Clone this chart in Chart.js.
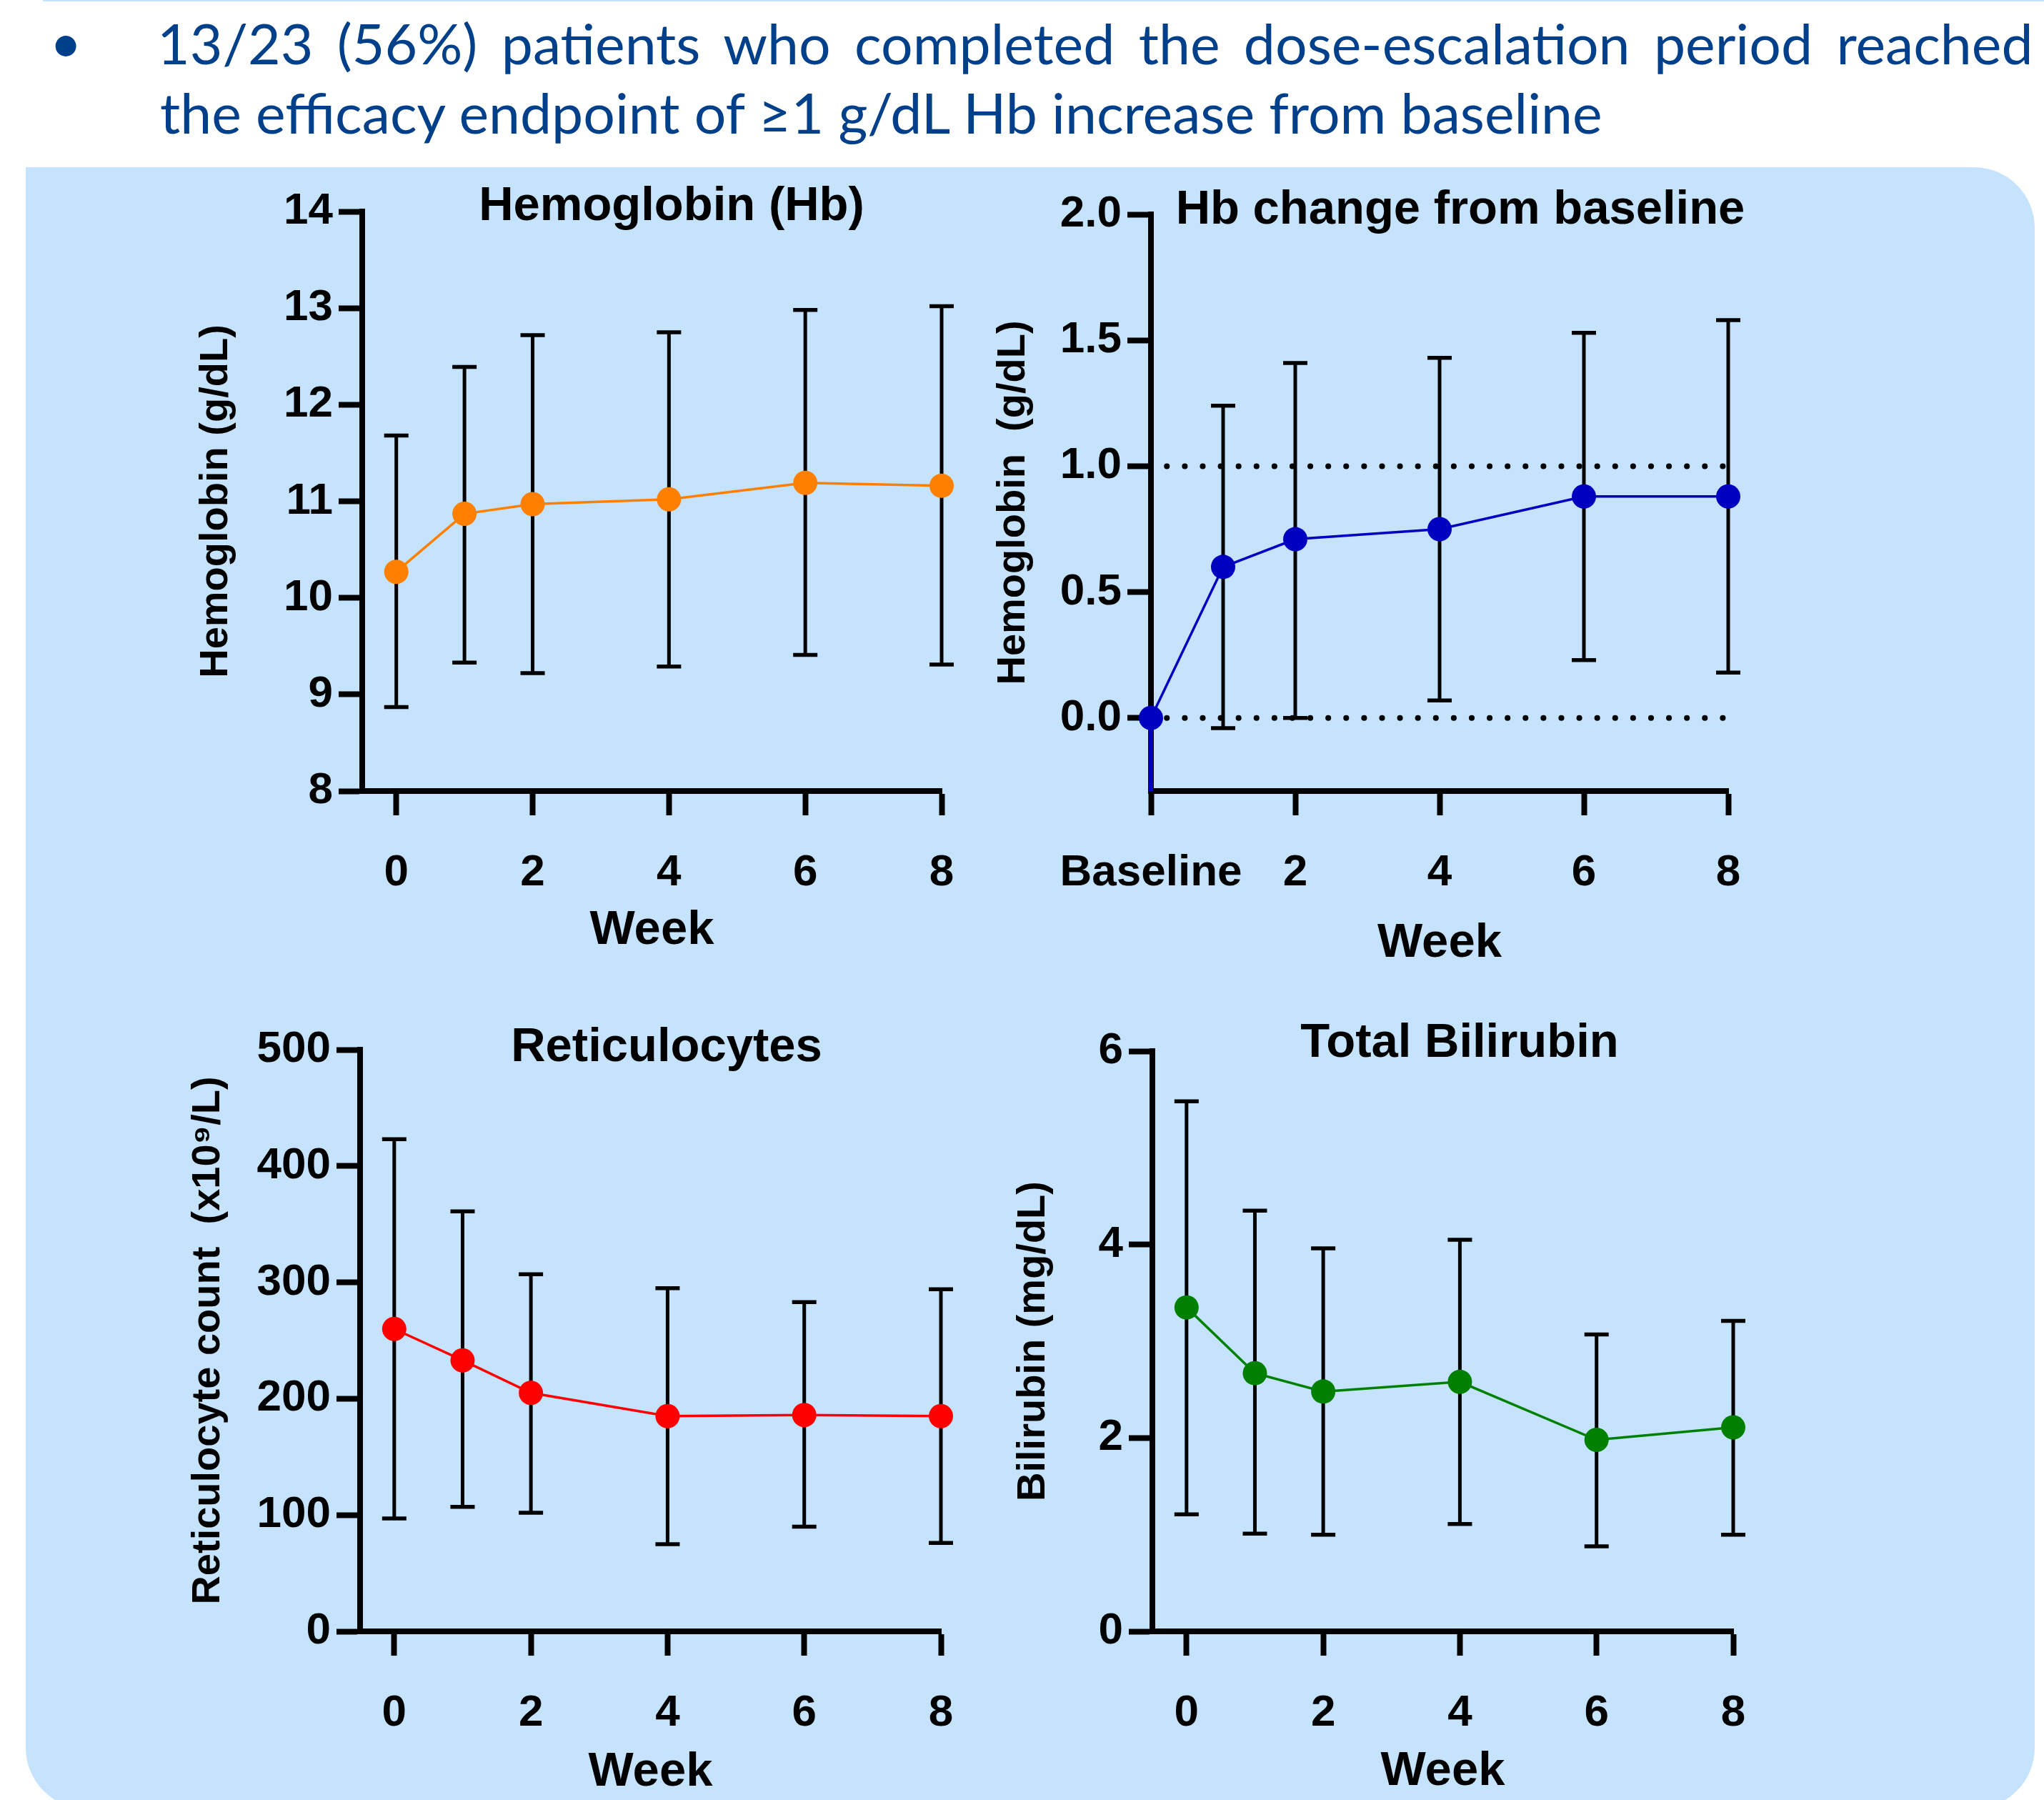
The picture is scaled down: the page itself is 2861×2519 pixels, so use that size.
<!DOCTYPE html>
<html>
<head>
<meta charset="utf-8">
<script src="https://cdn.jsdelivr.net/npm/chart.js@4.4.1/dist/chart.umd.min.js"></script>
<style>
  html, body { margin:0; padding:0; background:#ffffff; }
  body { width:2861px; height:2519px; position:relative; overflow:hidden; }
  #topline { position:absolute; left:60px; top:0; width:2801px; height:2px; background:#c5e3fc; }
  #panel { position:absolute; left:36px; top:234px; width:2812px; height:2297px; background:#c5e3fc;
           border-radius:0 85px 85px 85px; }
  #hdr { position:absolute; left:0; top:0; }
  #hdr text { font-family:Lato, 'Open Sans', sans-serif; font-size:78px; fill:#00408a; }
  canvas { position:absolute; }
</style>
</head>
<body>
<div id="topline"></div>
<div id="panel"></div>
<svg id="hdr" width="2861" height="230" xmlns="http://www.w3.org/2000/svg">
  <text id="bul" x="92" y="88" text-anchor="middle">•</text>
  <text id="t1" x="0" y="90">13/23 (56%) patients who completed the dose-escalation period reached</text>
  <text id="t2" x="0" y="187">the efficacy endpoint of ≥1 g/dL Hb increase from baseline</text>
</svg>
<script>
// ---------------- DATA ----------------
const weeks = [0, 1, 2, 4, 6, 8];
const weekTicks = [0, 2, 4, 6, 8];
const weekLabels = ['0', '2', '4', '6', '8'];
const changeWeekLabels = ['Baseline', '2', '4', '6', '8'];

const hbMean = [10.27, 10.87, 10.97, 11.02, 11.19, 11.16];
const hbHi   = [11.68, 12.39, 12.72, 12.75, 12.98, 13.02];
const hbLo   = [8.87, 9.33, 9.22, 9.29, 9.41, 9.31];
const hbTicks = [8, 9, 10, 11, 12, 13, 14];

const chgMean = [0, 0.60, 0.71, 0.75, 0.88, 0.88];
const chgHi   = [null, 1.24, 1.41, 1.43, 1.53, 1.58];
const chgLo   = [null, -0.04, 0.00, 0.07, 0.23, 0.18];
const chgTicks = [0, 0.5, 1.0, 1.5, 2.0];
const chgYMin = -0.29;
const chgRefLevels = [1.0, 0.0];
const chgRefRange = [0.22, 8];

const retMean = [260, 233, 205, 185, 186, 185];
const retHi   = [423, 361, 307, 295, 283, 294];
const retLo   = [97, 107, 102, 75, 90, 76];
const retTicks = [0, 100, 200, 300, 400, 500];

const biliMean = [3.35, 2.67, 2.48, 2.58, 1.98, 2.11];
const biliHi   = [5.48, 4.35, 3.96, 4.05, 3.07, 3.21];
const biliLo   = [1.21, 1.01, 1.00, 1.11, 0.88, 1.00];
const biliTicks = [0, 2, 4, 6];

// ---------------- HEADER TEXT FIT ----------------
(function fitHeader(){
  const t1 = document.getElementById('t1');
  const t2 = document.getElementById('t2');
  const w2 = t2.getComputedTextLength();
  const k = 2019 / w2;
  t2.setAttribute('transform', `translate(224,0) scale(${k},1)`);
  const w1 = t1.getComputedTextLength();
  const nSpaces = (t1.textContent.match(/ /g) || []).length;
  const ws = (2626 / k - w1) / nSpaces;
  t1.style.wordSpacing = ws + 'px';
  t1.setAttribute('transform', `translate(220,0) scale(${k},1)`);
})();

// ---------------- CHARTS ----------------
const FONT = "'Liberation Sans', Arial, Helvetica, sans-serif";
Chart.defaults.font.family = FONT;
Chart.defaults.color = '#000';

const panelTitlePlugin = {
  id: 'panelTitle',
  afterDraw(chart, args, opts) {
    const { ctx, chartArea } = chart;
    ctx.save();
    ctx.font = `bold ${opts.size}px ${FONT}`;
    ctx.fillStyle = '#000';
    ctx.textAlign = 'center';
    ctx.textBaseline = 'middle';
    ctx.fillText(opts.text, chartArea.left + opts.dx, chartArea.top + opts.dy);
    ctx.restore();
  }
};

function errorBarData(xs, lo, hi) {
  const out = [];
  xs.forEach((x, i) => {
    if (lo[i] === null || hi[i] === null) return;
    out.push({ x: x, y: lo[i] });
    out.push({ x: x, y: hi[i] });
    out.push({ x: x, y: null });
  });
  return out;
}

function makePanel(geo, cfg) {
  const c = document.createElement('canvas');
  c.width = geo.cw; c.height = geo.ch;
  c.style.left = geo.cx + 'px'; c.style.top = geo.cy + 'px';
  c.style.width = geo.cw + 'px'; c.style.height = geo.ch + 'px';
  document.body.appendChild(c);

  const datasets = [
    {
      data: cfg.xs.map((x, i) => ({ x: x, y: cfg.mean[i] })),
      borderColor: cfg.color, backgroundColor: cfg.color,
      borderWidth: 3.5, pointRadius: 17, pointBorderWidth: 0,
      pointBackgroundColor: cfg.color, tension: 0, clip: false
    },
    {
      data: errorBarData(cfg.xs, cfg.lo, cfg.hi),
      borderColor: '#000', borderWidth: 5, showLine: true, spanGaps: false,
      pointStyle: 'line', pointRadius: 17, pointBorderWidth: 5.5,
      pointBorderColor: '#000', pointBackgroundColor: '#000', clip: false
    }
  ];
  if (cfg.drop) {
    // line from the baseline point down to the bottom of the axis (as in the original)
    datasets.push({
      data: [{ x: cfg.xs[0], y: cfg.mean[0] }, { x: cfg.xs[0], y: cfg.yMin }],
      borderColor: cfg.color, borderWidth: 6, pointRadius: 0, clip: false
    });
  }
  (cfg.refLevels || []).forEach(level => {
    datasets.push({
      data: cfg.refRange.map(x => ({ x: x, y: level })),
      borderColor: '#000', borderWidth: 8, borderDash: [0.1, 25],
      borderCapStyle: 'round', pointRadius: 0, clip: false
    });
  });

  new Chart(c, {
    type: 'line',
    data: { datasets },
    options: {
      responsive: false, animation: false, devicePixelRatio: 1,
      layout: { padding: { left: 0, top: geo.padTop, right: geo.padRight, bottom: 0 } },
      plugins: {
        legend: { display: false }, tooltip: { enabled: false },
        panelTitle: { text: cfg.title, dx: geo.tdx, dy: geo.tdy, size: 67 }
      },
      scales: {
        x: {
          type: 'linear', min: cfg.xMin, max: cfg.xMax,
          afterBuildTicks: s => { s.ticks = cfg.xTicks.map(v => ({ value: v })); },
          afterFit: s => { s.height = geo.H; },
          ticks: {
            color: '#000', font: { size: 62, weight: 'bold' }, padding: 44,
            maxRotation: 0, autoSkip: false,
            callback: (v, i) => cfg.xLabels[i]
          },
          grid: { drawOnChartArea: false, drawTicks: true, tickLength: 34, tickWidth: 8,
                  tickColor: '#000', color: '#000' },
          border: { display: true, color: '#000', width: 8 },
          title: { display: true, text: 'Week', color: '#000',
                   font: { size: 67, weight: 'bold' }, padding: 0 }
        },
        y: {
          type: 'linear', min: cfg.yMin, max: cfg.yMax,
          afterBuildTicks: s => { s.ticks = cfg.yTicks.map(v => ({ value: v })); },
          afterFit: s => { s.width = geo.W; },
          ticks: {
            color: '#000', font: { size: 62, weight: 'bold' }, padding: 8,
            callback: v => cfg.yFmt(v)
          },
          grid: { drawOnChartArea: false, drawTicks: true, tickLength: 33, tickWidth: 8,
                  tickColor: '#000', color: '#000' },
          border: { display: true, color: '#000', width: 8 },
          title: { display: true, text: cfg.yTitle, color: '#000',
                   font: { size: 56, weight: 'bold' }, padding: 0 }
        }
      }
    },
    plugins: [panelTitlePlugin]
  });
}

// Panel 1: Hemoglobin
makePanel(
  { cx: 269, cy: 226, cw: 1111, ch: 1117, W: 238, H: 236, padTop: 70, padRight: 62, tdx: 433, tdy: -6 },
  { title: 'Hemoglobin (Hb)', xs: weeks, mean: hbMean, lo: hbLo, hi: hbHi, color: '#ff8000',
    xMin: -0.5, xMax: 8, xTicks: weekTicks, xLabels: weekLabels,
    yMin: 8, yMax: 14, yTicks: hbTicks, yFmt: v => String(v), yTitle: 'Hemoglobin (g/dL)' }
);

// Panel 2: Hb change from baseline
makePanel(
  { cx: 1385, cy: 230, cw: 1115, ch: 1131, W: 226, H: 254, padTop: 70, padRight: 81, tdx: 433, tdy: -5 },
  { title: 'Hb change from baseline', xs: weeks, mean: chgMean, lo: chgLo, hi: chgHi, color: '#0000c0',
    refLevels: chgRefLevels, refRange: chgRefRange, drop: true,
    xMin: 0, xMax: 8, xTicks: weekTicks, xLabels: changeWeekLabels,
    yMin: chgYMin, yMax: 2.0, yTicks: chgTicks, yFmt: v => v.toFixed(1), yTitle: 'Hemoglobin  (g/dL)' }
);

// Panel 3: Reticulocytes
makePanel(
  { cx: 258, cy: 1399, cw: 1122, ch: 1122, W: 246, H: 238, padTop: 70, padRight: 63, tdx: 429, tdy: -2 },
  { title: 'Reticulocytes', xs: weeks, mean: retMean, lo: retLo, hi: retHi, color: '#ff0000',
    xMin: -0.5, xMax: 8, xTicks: weekTicks, xLabels: weekLabels,
    yMin: 0, yMax: 500, yTicks: retTicks, yFmt: v => String(v), yTitle: 'Reticulocyte count  (x10\u2079/L)' }
);

// Panel 4: Total Bilirubin
makePanel(
  { cx: 1413, cy: 1401, cw: 1087, ch: 1119, W: 200, H: 237, padTop: 70, padRight: 74, tdx: 430, tdy: -10 },
  { title: 'Total Bilirubin', xs: weeks, mean: biliMean, lo: biliLo, hi: biliHi, color: '#008000',
    xMin: -0.5, xMax: 8, xTicks: weekTicks, xLabels: weekLabels,
    yMin: 0, yMax: 6, yTicks: biliTicks, yFmt: v => String(v), yTitle: 'Bilirubin (mg/dL)' }
);
</script>
</body>
</html>
